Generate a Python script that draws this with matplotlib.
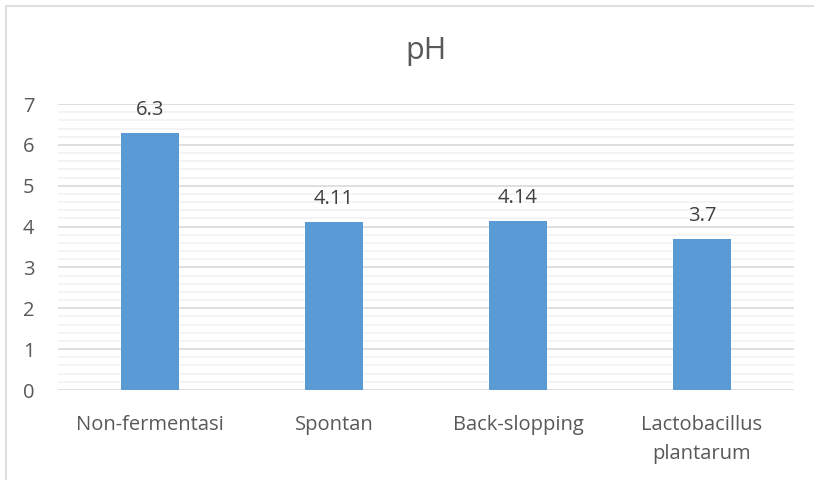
import matplotlib.pyplot as plt
import matplotlib.patches as patches
import numpy as np

plt.rcParams['font.family'] = ['Open Sans', 'DejaVu Sans']

categories = ['Non-fermentasi', 'Spontan', 'Back-slopping', 'Lactobacillus\nplantarum']
ph_values = [6.3, 4.11, 4.14, 3.7]
value_labels = ['6.3', '4.11', '4.14', '3.7']

W, H = 814, 480
fig = plt.figure(figsize=(W / 100, H / 100), dpi=100)

# outer chart frame (top and left visible only)
fig.patches.append(patches.Rectangle((6 / W, -0.1), 1.2, (H - 6) / H + 0.1,
                                     transform=fig.transFigure, fill=False,
                                     edgecolor='#d9d9d9', linewidth=1.2))

ax = fig.add_axes([58 / W, (H - 390) / H, (794 - 58) / W, (390 - 104) / H])

x = np.arange(len(categories))
ax.bar(x, ph_values, width=0.315, color='#5b9bd5', zorder=3)

for xi, v, lab in zip(x, ph_values, value_labels):
    ax.text(xi, v + 0.32, lab, ha='center', va='bottom', fontsize=14.5, color='#404040')

ax.set_xlim(-0.5, 3.5)
ax.set_ylim(0, 7)
ax.set_yticks(range(0, 8))
ax.set_yticks(np.arange(0, 7.01, 0.2), minor=True)
ax.grid(axis='y', which='major', color='#d9d9d9', linewidth=1.2, zorder=0)
ax.grid(axis='y', which='minor', color='#f2f2f2', linewidth=1.2, zorder=0)
ax.set_xticks(x)
ax.set_xticklabels(categories, fontsize=14.5, color='#595959', linespacing=1.6)
ax.tick_params(axis='y', labelsize=14.5, labelcolor='#595959', length=0, pad=17)
ax.tick_params(axis='x', length=0, pad=18)
ax.tick_params(axis='y', which='minor', length=0)
for s in ax.spines.values():
    s.set_visible(False)

fig.text(0.5 * (58 + 794) / W, (H - 51) / H, 'pH', ha='center', va='center',
         fontsize=22, color='#595959')

fig.savefig('out.png', dpi=100)
